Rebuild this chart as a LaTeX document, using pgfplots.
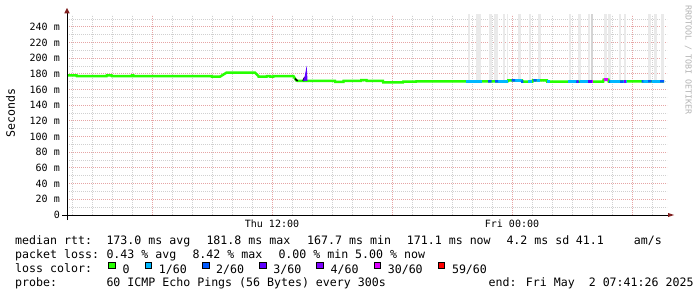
\documentclass[border=0pt]{standalone}
\usepackage{pgfplots}
\pgfplotsset{compat=1.18}
\usepackage{fontspec}
\setmainfont{DejaVu Sans Mono}
\setmonofont{DejaVu Sans Mono}
\definecolor{c0}{HTML}{26FF00}
\definecolor{c1}{HTML}{00B8FF}
\definecolor{c2}{HTML}{0059FF}
\definecolor{c3}{HTML}{5E00FF}
\definecolor{c4}{HTML}{7E00FF}
\definecolor{c30}{HTML}{DD00FF}
\definecolor{c59}{HTML}{FF0000}
\definecolor{gridminor}{RGB}{208,208,208}
\definecolor{gridmajor}{RGB}{230,165,165}
\definecolor{arrowred}{RGB}{128,32,32}
\definecolor{smoke}{RGB}{234,234,234}
\definecolor{smokedark}{RGB}{212,212,212}
\definecolor{wm}{RGB}{180,180,180}
\newcommand\legfont{\fontsize{11.6bp}{13bp}\selectfont}
\newcommand\tickfont{\fontsize{10bp}{12bp}\selectfont}
\pgfplotsset{
  smokebar/.style={fill=smoke, draw=none, forget plot},
  medline/.style={line width=2.5bp, forget plot, line cap=butt, unbounded coords=jump},
}
\begin{document}
\begin{tikzpicture}[x=1bp,y=1bp]
\path[use as bounding box, fill=white] (0,0) rectangle (697,297);
\begin{axis}[
  at={(67bp,82bp)}, anchor=south west, scale only axis, width=600bp, height=200bp,
  xmin=1.75, xmax=31.75, ymin=0, ymax=255.3,
  axis line style={draw=none},
  xtick={6,12,18,24,30}, xticklabels={,Thu 12:00,,Fri 00:00,},
  minor xtick={2,3,4,5,7,8,9,10,11,13,14,15,16,17,19,20,21,22,23,25,26,27,28,29,31},
  ytick={0,20,...,240},
  yticklabels={0,20 m,40 m,60 m,80 m,100 m,120 m,140 m,160 m,180 m,200 m,220 m,240 m},
  minor ytick={10,30,...,250},
  grid=both,
  major grid style={draw=gridmajor, line width=1bp, dash pattern=on 1bp off 1bp},
  minor grid style={draw=gridminor, line width=1bp, dash pattern=on 1bp off 1bp},
  major tick length=0pt, minor tick length=0pt,
  xticklabel style={font=\tickfont, anchor=base, inner sep=0pt, yshift=-12.7bp},
  yticklabel style={font=\tickfont, anchor=east, inner sep=0pt, xshift=-7bp},
  ylabel={Seconds},
  ylabel style={font=\legfont, anchor=base, at={(rel axis cs:-0.0867,0.51)}},
  legend columns=7,
  legend image code/.code={\draw[#1, draw=black, line width=0.8bp] (0bp,1.4bp) rectangle (6.7bp,8.1bp);},
  legend style={at={(rel axis cs:0.0688,-0.2675)}, anchor=west, draw=none, fill=none,
    inner sep=0pt, outer sep=0pt, font=\legfont, nodes={inner sep=0pt}, cells={anchor=west},
    /tikz/every odd column/.append style={column sep=6.8bp},
    /tikz/every even column/.append style={column sep=15bp}},
]
\addlegendimage{fill=c0}\addlegendentry{0}
\addlegendimage{fill=c1}\addlegendentry{1/60}
\addlegendimage{fill=c2}\addlegendentry{2/60}
\addlegendimage{fill=c3}\addlegendentry{3/60}
\addlegendimage{fill=c4}\addlegendentry{4/60}
\addlegendimage{fill=c30}\addlegendentry{30/60}
\addlegendimage{fill=c59}\addlegendentry{59/60}

% smoke (high-latency pings)
\addplot[smokebar] coordinates {(21.82,170)(21.82,256)(21.90,256)(21.90,170)};
\addplot[smokebar] coordinates {(22.20,170)(22.20,256)(22.44,256)(22.44,170)};
\addplot[smokebar] coordinates {(22.87,170)(22.87,256)(22.98,256)(22.98,170)};
\addplot[smokebar] coordinates {(23.09,170)(23.09,256)(23.29,256)(23.29,170)};
\addplot[smokebar] coordinates {(23.55,170)(23.55,256)(23.65,256)(23.65,170)};
\addplot[smokebar] coordinates {(23.73,170)(23.73,256)(23.78,256)(23.78,170)};
\addplot[smokebar] coordinates {(24.30,170)(24.30,256)(24.43,256)(24.43,170)};
\addplot[smokebar] coordinates {(24.85,170)(24.85,256)(24.95,256)(24.95,170)};
\addplot[smokebar] coordinates {(25.32,170)(25.32,256)(25.44,256)(25.44,170)};
\addplot[smokebar] coordinates {(26.83,170)(26.83,256)(26.93,256)(26.93,170)};
\addplot[smokebar] coordinates {(27.29,170)(27.29,256)(27.43,256)(27.43,170)};
\addplot[smokebar] coordinates {(27.80,170)(27.80,256)(27.90,256)(27.90,170)};
\addplot[smokebar, fill=smokedark] coordinates {(27.94,170)(27.94,256)(28.07,256)(28.07,170)};
\addplot[smokebar] coordinates {(28.60,170)(28.60,256)(28.74,256)(28.74,170)};
\addplot[smokebar] coordinates {(28.79,170)(28.79,256)(28.95,256)(28.95,170)};
\addplot[smokebar] coordinates {(29.37,170)(29.37,256)(29.45,256)(29.45,170)};
\addplot[smokebar] coordinates {(29.58,170)(29.58,256)(29.70,256)(29.70,170)};
\addplot[smokebar] coordinates {(30.80,170)(30.80,256)(30.94,256)(30.94,170)};
\addplot[smokebar] coordinates {(31.10,170)(31.10,256)(31.25,256)(31.25,170)};
\addplot[smokebar] coordinates {(31.45,170)(31.45,256)(31.60,256)(31.60,170)};

% median rtt, 0 loss
\addplot[medline, c0] coordinates {
(1.75,178.2)(2.23,178.2)(2.24,177.3)(3.73,177.3)(3.74,178.2)(3.98,178.2)(3.99,177.3)
(4.98,177.3)(4.99,178.2)(5.07,178.2)(5.08,177.3)(8.98,177.3)(8.99,176.6)(9.40,176.6)
(9.73,181.8)(11.15,181.8)(11.32,177.3)(11.33,176.6)(11.73,176.6)(11.74,177.3)(11.90,177.3)
(11.91,176.6)(12.07,176.6)(12.08,177.3)(13.07,177.3)(13.20,172.3)(13.28,171.1)(13.73,171.1)
(13.74,171.3)(15.15,171.3)(15.16,169.8)(15.57,169.8)(15.58,171.3)(16.45,171.3)(16.46,172.3)
(16.73,172.3)(16.74,171.1)(17.55,171.1)(17.56,169.4)(18.55,169.4)(18.56,170.2)(19.20,170.2)
(19.21,170.6)(23.78,170.6)(23.80,171.8)(24.50,171.8)(24.51,170.2)(25.02,170.2)(25.04,171.8)
(25.75,171.8)(25.76,170.4)(28.56,170.4)(28.58,172.8)(28.82,172.8)(28.84,170.4)(31.60,170.6)};
% spike
\addplot[medline, line width=1.5bp, black] coordinates {(13.15,174)(13.28,171.1)};
\addplot[medline, line width=1.5bp, black] coordinates {(13.55,171.1)(13.64,176)};
\addplot[medline, line width=1.8bp, c3] coordinates {(13.60,171.1)(13.68,177)(13.71,181)(13.73,171.1)};
% 1/60
\addplot[medline, c1] coordinates {
(21.70,170.6)(22.48,170.6)(22.49,nan)(23.32,170.6)(23.78,170.6)(23.79,nan)
(24.15,171.8)(24.49,171.8)(24.495,nan)(24.82,170.2)(25.02,170.2)(25.03,nan)
(25.23,171.8)(25.40,171.8)(25.41,nan)(25.76,170.4)(25.90,170.4)(25.91,nan)
(26.80,170.4)(27.20,170.4)(27.21,nan)(27.40,170.4)(27.80,170.4)(27.81,nan)
(28.90,170.4)(29.40,170.4)(29.41,nan)(29.57,170.4)(29.73,170.4)(29.74,nan)
(30.57,170.5)(30.80,170.5)(30.81,nan)(30.98,170.5)(31.40,170.5)};
% 2/60
\addplot[medline, c2] coordinates {
(22.80,170.6)(22.98,170.6)(22.99,nan)(23.15,170.6)(23.30,170.6)(23.31,nan)
(23.98,171.8)(24.15,171.8)(24.16,nan)(24.49,171.8)(24.51,170.2)(24.57,170.2)(24.58,nan)
(25.07,171.8)(25.23,171.8)(25.24,nan)(27.20,170.4)(27.36,170.4)(27.37,nan)
(28.84,170.4)(28.90,170.4)(28.91,nan)(29.40,170.4)(29.57,170.4)(29.58,nan)
(30.48,170.5)(30.57,170.5)(30.58,nan)(30.80,170.5)(30.98,170.5)(30.99,nan)
(31.40,170.6)(31.60,170.6)};
% 3/60, 4/60
\addplot[medline, c3] coordinates {(27.80,170.4)(27.98,170.4)};
\addplot[medline, c4] coordinates {(27.23,170.4)(27.32,170.4)(27.33,nan)(29.58,170.4)(29.70,170.4)};
% 30/60
\addplot[medline, c30] coordinates {(27.98,170.4)(28.07,170.4)(28.08,nan)(28.58,172.8)(28.82,172.8)};
\end{axis}
% axes
\draw[line width=1bp] (62,82) -- (668,82);
\fill[arrowred] (668,80) -- (674,82) -- (668,84) -- cycle;
\draw[line width=1bp] (67,77) -- (67,283.7);
\fill[arrowred] (64.3,283.7) -- (67,289) -- (69.7,283.7) -- cycle;
% watermark
\node[rotate=-90, text=wm, font=\fontsize{8.3bp}{10bp}\selectfont, inner sep=0pt] at (688.3,237) {RRDTOOL / TOBI OETIKER};
% legend text
\begin{scope}[every node/.style={anchor=base west, inner sep=0pt, font=\legfont}]
\node at (15,52.3) {median rtt:};
\node at (106.3,52.3) {173.0 ms avg};
\node at (206.3,52.3) {181.8 ms max};
\node at (307,52.3) {167.7 ms min};
\node at (406.7,52.3) {171.1 ms now};
\node at (506.3,52.3) {4.2 ms sd};
\node at (575.7,52.3) {41.1};
\node at (633.7,52.3) {am/s};
\node at (15,38.3) {packet loss:};
\node at (106.3,38.3) {0.43 \% avg};
\node at (192.3,38.3) {8.42 \% max};
\node at (278.3,38.3) {0.00 \% min};
\node at (355,38.3) {5.00 \% now};
\node at (15,24.3) {loss color:};
\node at (15,10.7) {probe:};
\node at (106.3,10.7) {60 ICMP Echo Pings (56 Bytes) every 300s};
\node at (488.5,10.7) {end: Fri May~~2 07:41:26 2025};
\end{scope}
\end{tikzpicture}
\end{document}
